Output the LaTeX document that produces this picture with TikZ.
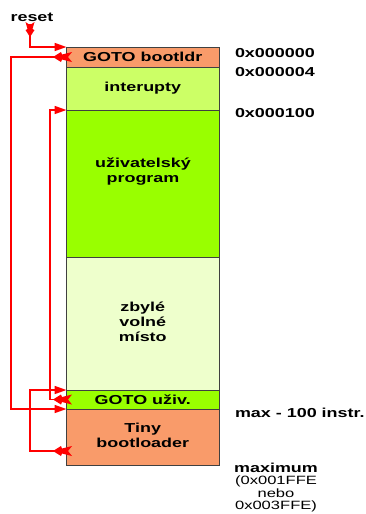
\documentclass[tikz,border=0pt]{standalone}
\usepackage{fontspec}
\setmainfont{Liberation Sans}
\usetikzlibrary{arrows.meta}
\definecolor{orng}{HTML}{F99B6A}
\definecolor{lgreen}{HTML}{CCFF66}
\definecolor{mygreen}{HTML}{99FF00}
\definecolor{pale}{HTML}{EEFFCC}
\definecolor{bord}{HTML}{404040}
\newcommand\sx[1]{\scalebox{1.38}[1]{#1}}
\newcommand\stk[1]{\begin{tabular}{@{}c@{}}#1\end{tabular}}
\newcommand\nb[1]{{\mdseries\fontsize{12}{12.5}\selectfont #1}}
\begin{document}
\begin{tikzpicture}[x=1pt,y=-1pt,
  every node/.style={font=\fontsize{13}{15}\selectfont\bfseries, inner sep=0pt, outer sep=0pt},
  mem/.style={draw=bord, line width=0.9pt, minimum width=152.5pt, anchor=north west},
  jump/.style={draw=red, line width=1.6pt, -{Triangle[length=12pt,width=8pt]}},
  tailmark/.pic={\fill[red] (0,0) -- (8,-5) -- (9,-2.5) -- (19,-5) -- (15,0) -- (19,5) -- (9,2.5) -- (8,5) -- cycle;},
  resetmark/.pic={\fill[red] (0,0) -- (7,-4.5) -- (8,-2.5) -- (15,-4.5) -- (12,0) -- (15,4.5) -- (8,2.5) -- (7,4.5) -- cycle;}]
\useasboundingbox (0,0) rectangle (365,514);
\fill[white] (0,0) rectangle (365,514);

% memory column
\node[mem, fill=orng, minimum height=20pt] (b1) at (66.5,47) {\sx{GOTO bootldr}};
\node[mem, fill=lgreen, minimum height=43pt] (b2) at (66.5,67) {\sx{interupty}};
\node[mem, fill=mygreen, minimum height=147pt] (b3) at (66.5,110) {};
\node (t3) at (143,172) {\sx{\stk{uživatelský\\program}}};
\node[mem, fill=pale, minimum height=133pt] (b4) at (66.5,257) {\sx{\stk{zbylé\\volné\\místo}}};
\node[mem, fill=mygreen, minimum height=19pt] (b5) at (66.5,390) {\sx{GOTO uživ.}};
\node[mem, fill=orng, minimum height=56pt] (b6) at (66.5,409) {\sx{\stk{Tiny\\bootloader}}};

% addresses
\node[anchor=west] (a0) at (235,53.5) {\sx{0x000000}};
\node[anchor=west] (a1) at (235,72.5) {\sx{0x000004}};
\node[anchor=west] (a2) at (235,113.5) {\sx{0x000100}};
\node[anchor=west] (a3) at (235,413) {\sx{max - 100 instr.}};
\node[anchor=north, font=\fontsize{13}{12.5}\selectfont\bfseries] (a4) at (276,463) {\sx{\stk{maximum\\\nb{(0x001FFE}\\\nb{nebo}\\\nb{0x003FFE)}}}};

% reset
\node (r) at (32,17.5) {\sx{reset}};
\coordinate (rs) at (30,24);
\draw[jump] (rs) |- (b1.north west);
\pic[rotate=90] at (30,37) {resetmark};

% jumps
\coordinate (t6) at (66.5,451);
\draw[jump] (b1.west) -- ++(-55.5,0) |- (b6.north west);
\draw[jump] (b5.west) -- ++(-16.5,0) |- (b3.north west);
\draw[jump] (t6) -- ++(-36.5,0) |- (b5.north west);
\pic at (53,57) {tailmark};
\pic at (53,399.5) {tailmark};
\pic at (53,451) {tailmark};
\end{tikzpicture}
\end{document}
